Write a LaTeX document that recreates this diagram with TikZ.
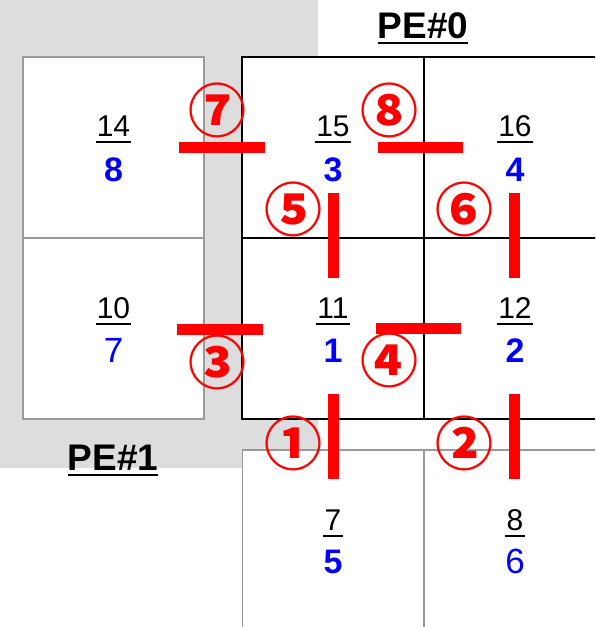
\documentclass[tikz,border=0pt]{standalone}
\usepackage{fontspec}
\setmainfont{Liberation Sans}
\newfontfamily\circfont{Noto Sans CJK JP}
\usetikzlibrary{calc}

\definecolor{pegray}{HTML}{DDDDDD}
\definecolor{edgegray}{HTML}{9A9A9A}

\tikzset{
  ownbox/.style={draw=black, line width=1.5pt, fill=white, inner sep=0pt,
    minimum width=182pt, minimum height=181pt},
  peerbox/.style={draw=edgegray, line width=1.5pt, fill=white, inner sep=0pt,
    minimum width=181pt, minimum height=181pt},
  gidnum/.style={anchor=base, inner sep=0pt, font=\fontsize{30}{30}\selectfont},
  lidbold/.style={anchor=base, inner sep=0pt, text=blue,
    font=\bfseries\fontsize{34}{34}\selectfont},
  lidthin/.style={anchor=base, inner sep=0pt, text=blue,
    font=\fontsize{35}{35}\selectfont},
  bar/.style={red, line width=11pt},
  tag/.style={inner sep=0pt, text=red, font=\circfont\bfseries\fontsize{58}{58}\selectfont},
  pelabel/.style={anchor=base, inner sep=0pt, font=\bfseries\fontsize{37}{37}\selectfont}
}

\begin{document}
\begin{tikzpicture}[x=1pt, y=-1pt]
  \useasboundingbox (0,0) rectangle (595,627);
  \clip (0,0) rectangle (595,627);

  % Shaded area of PE#1
  \fill[pegray] (0,0) rectangle (318,468);

  % Cells of PE#1 (gray frames)
  \node[peerbox] (c14) at (113.5,147.5) {};
  \node[peerbox] (c10) at (113.5,328.5) {};
  \node[peerbox] (c7)  at (333,540.5) {};
  \node[peerbox] (c8)  at (515,540.5) {};

  % Cells of PE#0 (black frames)
  \node[ownbox] (c15) at (333,147.5) {};
  \node[ownbox] (c16) at (515,147.5) {};
  \node[ownbox] (c11) at (333,328.5) {};
  \node[ownbox] (c12) at (515,328.5) {};

  % Global number (underlined) over local number
  \foreach \cell/\gid/\lid/\sty/\up/\dn in {
      c14/14/8/lidbold/11/34, c15/15/3/lidbold/11/34, c16/16/4/lidbold/11/34,
      c10/10/7/lidthin/10/34, c11/11/1/lidbold/10/34, c12/12/2/lidbold/10/34,
      c7/7/5/lidbold/10/33,   c8/8/6/lidthin/10/33} {
    \node[gidnum] (g\cell) at ($(\cell.center)+(0,-\up)$) {\gid};
    \draw[line width=1.5pt] ([xshift=-1pt,yshift=-5.5pt]g\cell.base west)
      -- ([xshift=1pt,yshift=-5.5pt]g\cell.base east);
    \node[\sty] (l\cell) at ($(\cell.center)+(0,\dn)$) {\lid};
  }

  % PE labels
  \node[pelabel] (pe0) at (423,38) {PE\#0};
  \draw[line width=1.5pt] ([yshift=-5pt]pe0.base west) -- ([yshift=-5pt]pe0.base east);
  \node[pelabel] (pe1) at (113,470) {PE\#1};
  \draw[line width=1.5pt] ([yshift=-5pt]pe1.base west) -- ([yshift=-5pt]pe1.base east);

  % Communication bars
  \draw[bar] (333.5,394) -- (333.5,479);
  \draw[bar] (514.5,394) -- (514.5,479);
  \draw[bar] (177,329) -- (263,329);
  \draw[bar] (376,328.5) -- (461,328.5);
  \draw[bar] (333.5,193) -- (333.5,278);
  \draw[bar] (514.5,193) -- (514.5,278);
  \draw[bar] (179,147) -- (265,147);
  \draw[bar] (378,147) -- (463,147);

  % Bar numbers
  \node[tag] (t1) at (293,443) {①};
  \node[tag] (t2) at (464,443) {②};
  \node[tag] (t3) at (217,362) {③};
  \node[tag] (t4) at (389,360) {④};
  \node[tag] (t5) at (293,209) {⑤};
  \node[tag] (t6) at (464,209) {⑥};
  \node[tag] (t7) at (217,110) {⑦};
  \node[tag] (t8) at (389,110) {⑧};
\end{tikzpicture}
\end{document}
